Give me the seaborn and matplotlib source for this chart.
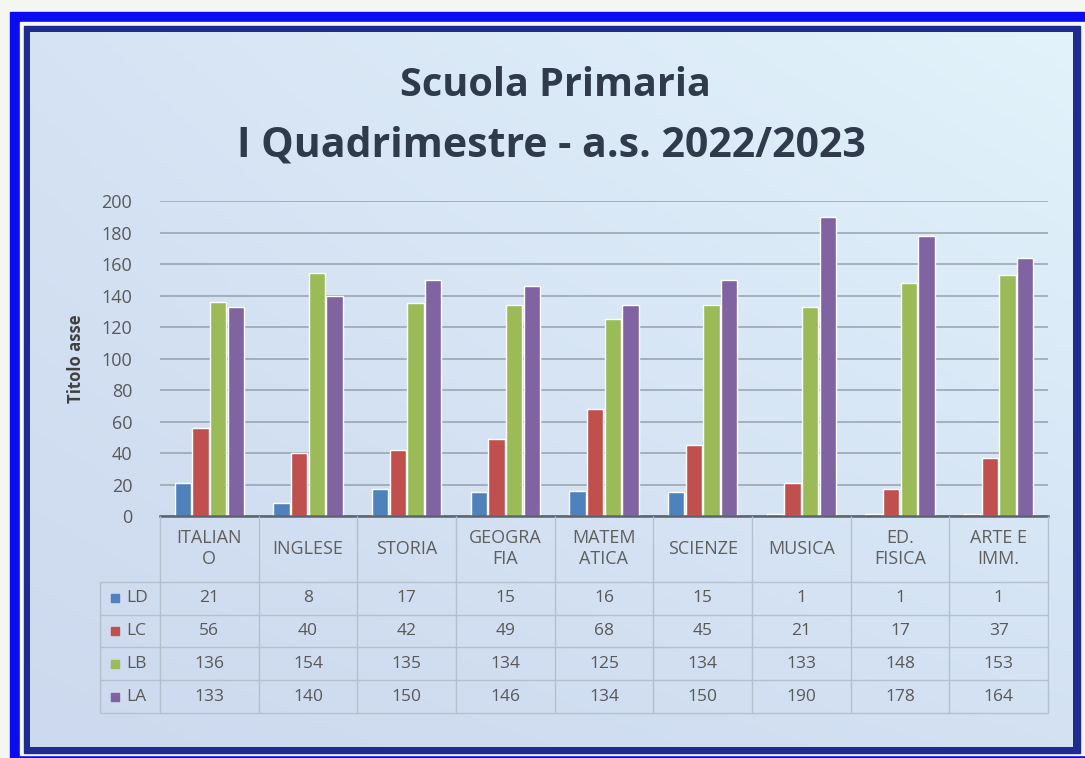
import matplotlib
matplotlib.use("Agg")
import matplotlib.pyplot as plt
from matplotlib.patches import Rectangle
import seaborn as sns
import numpy as np
import pandas as pd

# dati
materie = ["ITALIANO", "INGLESE", "STORIA", "GEOGRAFIA", "MATEMATICA",
           "SCIENZE", "MUSICA", "ED. FISICA", "ARTE E IMM."]
intestazioni = ["ITALIAN\nO", "INGLESE", "STORIA", "GEOGRA\nFIA", "MATEM\nATICA",
                "SCIENZE", "MUSICA", "ED.\nFISICA", "ARTE E\nIMM."]
livelli = ["LD", "LC", "LB", "LA"]
ld = [21, 8, 17, 15, 16, 15, 1, 1, 1]
lc = [56, 40, 42, 49, 68, 45, 21, 17, 37]
lb = [136, 154, 135, 134, 125, 134, 133, 148, 153]
la = [133, 140, 150, 146, 134, 150, 190, 178, 164]
colori = ["#4F81BD", "#C0504D", "#9BBB59", "#8064A2"]

serie = [ld, lc, lb, la]
df = pd.DataFrame({
    "materia": materie * len(livelli),
    "livello": np.repeat(livelli, len(materie)),
    "valore": ld + lc + lb + la,
})

sns.set_theme(style="white")
plt.rcParams["font.family"] = ["Open Sans", "DejaVu Sans"]

W, H = 1085, 758
fig = plt.figure(figsize=(W / 100, H / 100), dpi=100)

# sfondo con cornice e gradiente
bg = fig.add_axes([0, 0, 1, 1])
bg.set_xlim(0, W)
bg.set_ylim(H, 0)
bg.axis("off")
bg.add_patch(Rectangle((0, 0), W, H, color="#f3f6f1", zorder=0))
bg.add_patch(Rectangle((10, 12), 1100, 800, color="#0c0cf2", zorder=0.2))
bg.add_patch(Rectangle((20, 22), 1100, 733, color="#f4f7fb", zorder=0.3))
bg.add_patch(Rectangle((24, 26), 1056, 727, color="#1f2c8f", zorder=0.4))
gx, gy = np.meshgrid(np.linspace(0, 1, 200), np.linspace(0, 1, 200))
tl = np.array([0xd6, 0xe3, 0xf4]) / 255
tr = np.array([0xe2, 0xf3, 0xfb]) / 255
bl = np.array([0xcd, 0xd9, 0xee]) / 255
br = np.array([0xd3, 0xe1, 0xf3]) / 255
grad = ((1 - gx)[..., None] * ((1 - gy)[..., None] * tl + gy[..., None] * bl)
        + gx[..., None] * ((1 - gy)[..., None] * tr + gy[..., None] * br))
bg.imshow(grad, extent=(30, 1073, 747, 32), aspect="auto", zorder=1)

# grafico a barre
ax = fig.add_axes([160 / W, 1 - 516 / H, 888 / W, 315 / H])
ax.patch.set_alpha(0)
sns.barplot(data=df, x="materia", y="valore", hue="livello", palette=colori,
            saturation=1, width=0.72, gap=0.08, legend=False, ax=ax)
ax.set_xlim(-0.5, 8.5)
ax.set_ylim(0, 200)
ax.set_yticks(range(0, 201, 20))
ax.set_xticks([])
ax.set_xlabel("")
ax.set_ylabel("Titolo asse", fontsize=12, fontweight="bold", color="#404040")
ax.yaxis.set_label_coords(-0.084, 0.5)
ax.tick_params(axis="y", length=0, pad=20, labelsize=13, labelcolor="#595959")
ax.grid(axis="y", color="#97a1ac", lw=1.1)
ax.set_axisbelow(True)
for s in ["top", "left", "right"]:
    ax.spines[s].set_visible(False)
ax.spines["bottom"].set_color("#5a626c")
ax.spines["bottom"].set_linewidth(1.8)

fig.text(555 / W, 1 - 85 / H, "Scuola Primaria", ha="center", va="center",
         fontsize=28.5, fontweight="bold", color="#2f3b4a")
fig.text(551 / W, 1 - 146 / H, "I Quadrimestre - a.s. 2022/2023", ha="center", va="center",
         fontsize=29.5, fontweight="bold", color="#2f3b4a")

# tabella dati
tab = fig.add_axes([100 / W, 1 - 713 / H, 948 / W, 197 / H])
tab.patch.set_alpha(0)
tab.axis("off")
x0 = -1.108
tab.set_xlim(x0, 8.5)
tab.set_ylim(6, 0)
lc_tab = "#b4c0ce"
tab.hlines([2, 3, 4, 5, 6], x0, 8.5, color=lc_tab, lw=1, clip_on=False)
tab.vlines([x0], 2, 6, color=lc_tab, lw=1, clip_on=False)
tab.vlines(np.arange(len(materie) + 1) - 0.5, 0, 6, color=lc_tab, lw=1, clip_on=False)
for i, lab in enumerate(intestazioni):
    tab.text(i, 1.0, lab, ha="center", va="center", fontsize=13,
             color="#5f5f5f", linespacing=1.2)
for r, (nome, vals, col) in enumerate(zip(livelli, serie, colori)):
    y = 2.5 + r
    tab.plot(x0 + 0.15, y, marker="s", ms=6, color=col, clip_on=False)
    tab.text(x0 + 0.27, y, nome, ha="left", va="center", fontsize=12.5, color="#595959")
    for i, v in enumerate(vals):
        tab.text(i, y, str(v), ha="center", va="center", fontsize=12.5, color="#595959")

fig.savefig("out.png", dpi=100)
